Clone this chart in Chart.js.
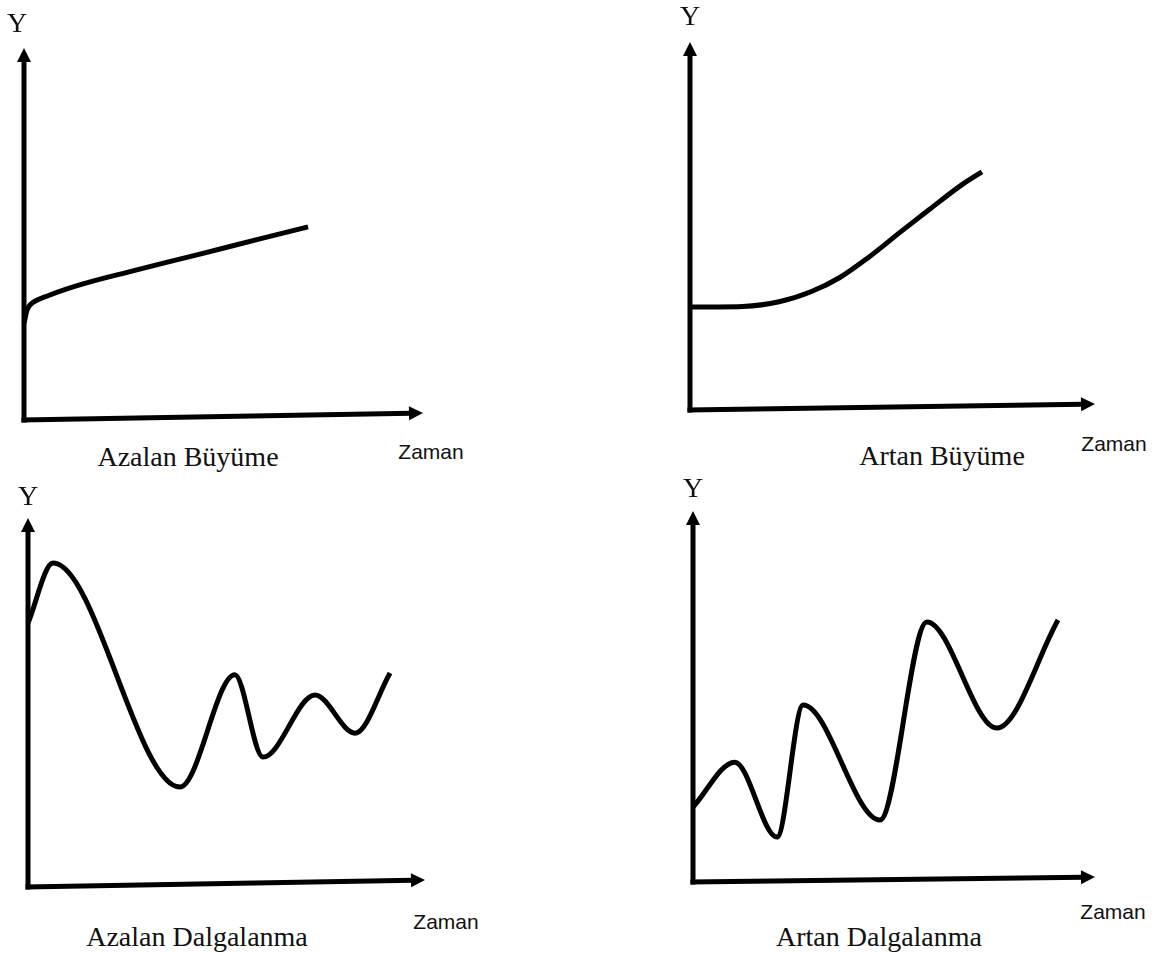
<!DOCTYPE html>
<html>
<head>
<meta charset="utf-8">
<script src="https://cdn.jsdelivr.net/npm/chart.js@4"></script>
<style>
  body { margin: 0; background: #fff; }
  #page { position: relative; width: 1162px; height: 954px; overflow: hidden; }
  canvas { position: absolute; }
  .lbl { position: absolute; color: #111; white-space: nowrap; transform: translate(-50%, -50%); }
  .serif { font-family: "Liberation Serif", "Times New Roman", serif; }
  .sans { font-family: "Liberation Sans", Arial, sans-serif; font-size: 21px; }
  .yl { font-size: 28px; }
  .ttl { font-size: 28px; }
</style>
</head>
<body>
<div id="page">
  <canvas id="c1" width="427" height="400" style="left:10px;top:34px"></canvas>
  <canvas id="c2" width="433" height="396" style="left:676px;top:28px"></canvas>
  <canvas id="c3" width="425" height="397" style="left:14px;top:504px"></canvas>
  <canvas id="c4" width="430" height="399" style="left:679px;top:497px"></canvas>

  <div class="lbl serif yl" style="left:17px;top:23px">Y</div>
  <div class="lbl serif yl" style="left:690px;top:16px">Y</div>
  <div class="lbl serif yl" style="left:28px;top:496px">Y</div>
  <div class="lbl serif yl" style="left:693px;top:488px">Y</div>

  <div class="lbl sans" style="left:431px;top:452px">Zaman</div>
  <div class="lbl sans" style="left:1114px;top:444px">Zaman</div>
  <div class="lbl sans" style="left:446px;top:922px">Zaman</div>
  <div class="lbl sans" style="left:1113px;top:912px">Zaman</div>

  <div class="lbl serif ttl" style="left:188px;top:457px">Azalan Büyüme</div>
  <div class="lbl serif ttl" style="left:942px;top:456px">Artan Büyüme</div>
  <div class="lbl serif ttl" style="left:197px;top:937px">Azalan Dalgalanma</div>
  <div class="lbl serif ttl" style="left:879px;top:937px">Artan Dalgalanma</div>
</div>
<script>
// Azalan Büyüme
var decGrowthX = [0, 0.15, 0.65, 1.48, 2.73, 4.41, 5.91, 7.12];
var decGrowthY = [2.61, 3.09, 3.36, 3.66, 4.01, 4.46, 4.87, 5.19];

// Artan Büyüme
var incGrowthX = [0, 0.7, 1.3, 2.2, 3.0, 3.7, 4.4, 5.2, 5.9, 6.7, 7.21];
var incGrowthY = [2.80, 2.80, 2.81, 2.94, 3.22, 3.60, 4.14, 4.84, 5.44, 6.11, 6.47];

// Azalan Dalgalanma (start, extrema, end)
var decWaveX = [0, 0.63, 3.83, 5.21, 5.92, 7.23, 8.24, 9.12];
var decWaveY = [7.15, 8.78, 2.71, 5.75, 3.52, 5.20, 4.17, 5.80];

// Artan Dalgalanma (start, extrema, end)
var incWaveX = [0, 1.04, 2.09, 2.74, 4.65, 5.82, 7.56, 9.08];
var incWaveY = [2.02, 3.23, 1.21, 4.77, 1.67, 7.01, 4.15, 7.06];

// axes with arrow heads, drawn on the chart area edges
var arrowAxes = {
    id: 'arrowAxes',
    afterDatasetsDraw: function(chart, args, opts) {
        var a = chart.chartArea, ctx = chart.ctx;
        var tilt = opts.tilt || 0;
        var head = 14, half = 7;
        ctx.save();
        ctx.strokeStyle = '#000';
        ctx.fillStyle = '#000';
        ctx.lineWidth = 5;
        ctx.lineCap = 'butt';

        // y axis
        ctx.beginPath();
        ctx.moveTo(a.left, a.bottom + 2.5);
        ctx.lineTo(a.left, a.top + head - 2);
        ctx.stroke();
        ctx.beginPath();
        ctx.moveTo(a.left, a.top);
        ctx.lineTo(a.left - half, a.top + head);
        ctx.lineTo(a.left + half, a.top + head);
        ctx.closePath();
        ctx.fill();

        // x axis
        var ang = Math.atan2(-tilt, a.right - a.left);
        var ex = a.right, ey = a.bottom - tilt;
        var bx = ex - head * Math.cos(ang), by = ey - head * Math.sin(ang);
        ctx.beginPath();
        ctx.moveTo(a.left - 2.5, a.bottom);
        ctx.lineTo(bx + 2 * Math.cos(ang), by + 2 * Math.sin(ang));
        ctx.stroke();
        ctx.beginPath();
        ctx.moveTo(ex, ey);
        ctx.lineTo(bx - half * Math.sin(ang), by + half * Math.cos(ang));
        ctx.lineTo(bx + half * Math.sin(ang), by - half * Math.cos(ang));
        ctx.closePath();
        ctx.fill();
        ctx.restore();
    }
};

function drawPanel(id, xs, ys, tilt, mode) {
    var pts = xs.map(function(x, i) { return { x: x, y: ys[i] }; });
    var ds = {
        data: pts,
        borderColor: '#000',
        borderWidth: 5,
        pointRadius: 0,
        fill: false,
        clip: false
    };
    if (mode === 'monotone') ds.cubicInterpolationMode = 'monotone';
    else ds.tension = 0.4;
    return new Chart(document.getElementById(id), {
        type: 'line',
        data: { datasets: [ds] },
        options: {
            responsive: false,
            animation: false,
            events: [],
            layout: { padding: 14 },
            plugins: {
                legend: { display: false },
                tooltip: { enabled: false },
                arrowAxes: { tilt: tilt }
            },
            scales: {
                x: { type: 'linear', min: 0, max: 10, display: false },
                y: { type: 'linear', min: 0, max: 10, display: false }
            }
        },
        plugins: [arrowAxes]
    });
}

drawPanel('c1', decGrowthX, decGrowthY, 7, 'spline');
drawPanel('c2', incGrowthX, incGrowthY, 6, 'monotone');
drawPanel('c3', decWaveX, decWaveY, 7, 'monotone');
drawPanel('c4', incWaveX, incWaveY, 5, 'monotone');
</script>
</body>
</html>
